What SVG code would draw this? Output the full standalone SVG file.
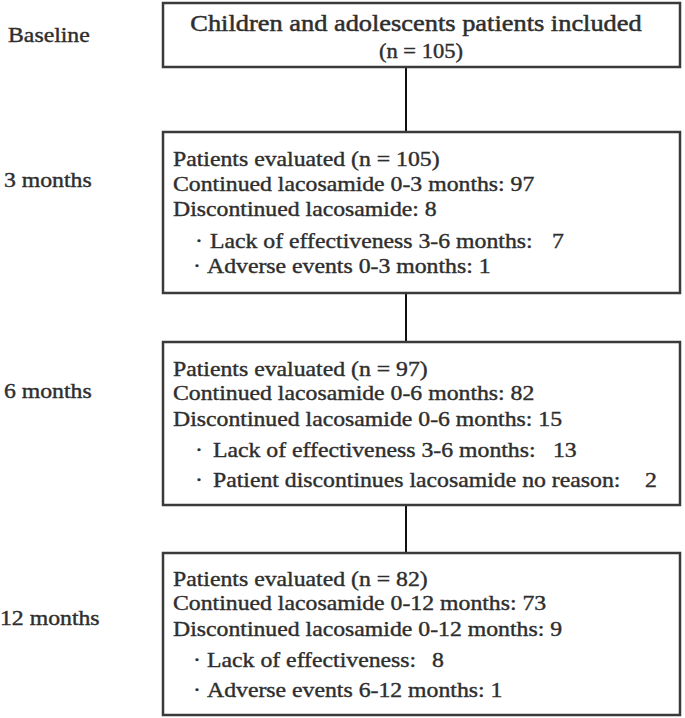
<svg xmlns="http://www.w3.org/2000/svg" width="685" height="718" viewBox="0 0 685 718">
<defs>
<style>
.box{fill:#fff;stroke:#3a3a3a;stroke-width:2.5}
.con{stroke:#111;stroke-width:2;fill:none}
</style>
</defs>
<rect width="685" height="718" fill="#fff"/>
<g id="connectors">
<line class="con" x1="406" y1="67" x2="406" y2="132"/>
<line class="con" x1="406" y1="293" x2="406" y2="342"/>
<line class="con" x1="406" y1="505" x2="406" y2="553"/>
</g>
<g id="boxes">
<rect id="box-baseline" class="box" x="163" y="3" width="517" height="64"/>
<rect id="box-3m" class="box" x="163" y="132" width="517" height="161"/>
<rect id="box-6m" class="box" x="163" y="342" width="517" height="163"/>
<rect id="box-12m" class="box" x="163" y="553" width="517" height="162"/>
</g>
<g transform="scale(1.1 1)" font-family="Liberation Serif, Times New Roman, serif" font-size="21.6" fill="#2e2e2e" stroke="#2e2e2e" stroke-width="0.4">
<g id="labels">
<text x="7.3" y="42">Baseline</text>
<text x="3.6" y="187">3 months</text>
<text x="3.6" y="398">6 months</text>
<text x="0" y="625">12 months</text>
</g>
<g id="node-baseline">
<text x="378.2" y="31" text-anchor="middle" font-size="24" stroke-width="0.5">Children and adolescents patients included</text>
<text x="382.7" y="58" text-anchor="middle" font-size="20.5">(n = 105)</text>
</g>
<g id="node-3m">
<text x="157.3" y="166">Patients evaluated (n = 105)</text>
<text x="157.3" y="191">Continued lacosamide 0-3 months: 97</text>
<text x="157.3" y="216">Discontinued lacosamide: 8</text>
<text y="248"><tspan x="177.3">·</tspan><tspan x="190.9">Lack of effectiveness 3-6 months:</tspan><tspan x="501.8">7</tspan></text>
<text y="273"><tspan x="175.5">·</tspan><tspan x="188.2">Adverse events 0-3 months: 1</tspan></text>
</g>
<g id="node-6m">
<text x="157.3" y="376">Patients evaluated (n = 97)</text>
<text x="157.3" y="400">Continued lacosamide 0-6 months: 82</text>
<text x="157.3" y="426">Discontinued lacosamide 0-6 months: 15</text>
<text y="457"><tspan x="177.3">·</tspan><tspan x="193.6">Lack of effectiveness 3-6 months:</tspan><tspan x="502.7">13</tspan></text>
<text y="487"><tspan x="177.3">·</tspan><tspan x="193.6">Patient discontinues lacosamide no reason:</tspan><tspan x="586.4">2</tspan></text>
</g>
<g id="node-12m">
<text x="157.3" y="586">Patients evaluated (n = 82)</text>
<text x="157.3" y="610">Continued lacosamide 0-12 months: 73</text>
<text x="157.3" y="636">Discontinued lacosamide 0-12 months: 9</text>
<text y="667"><tspan x="175.5">·</tspan><tspan x="188.2">Lack of effectiveness:</tspan><tspan x="392.7">8</tspan></text>
<text y="697"><tspan x="175.5">·</tspan><tspan x="188.2">Adverse events 6-12 months: 1</tspan></text>
</g>
</g>
</svg>
